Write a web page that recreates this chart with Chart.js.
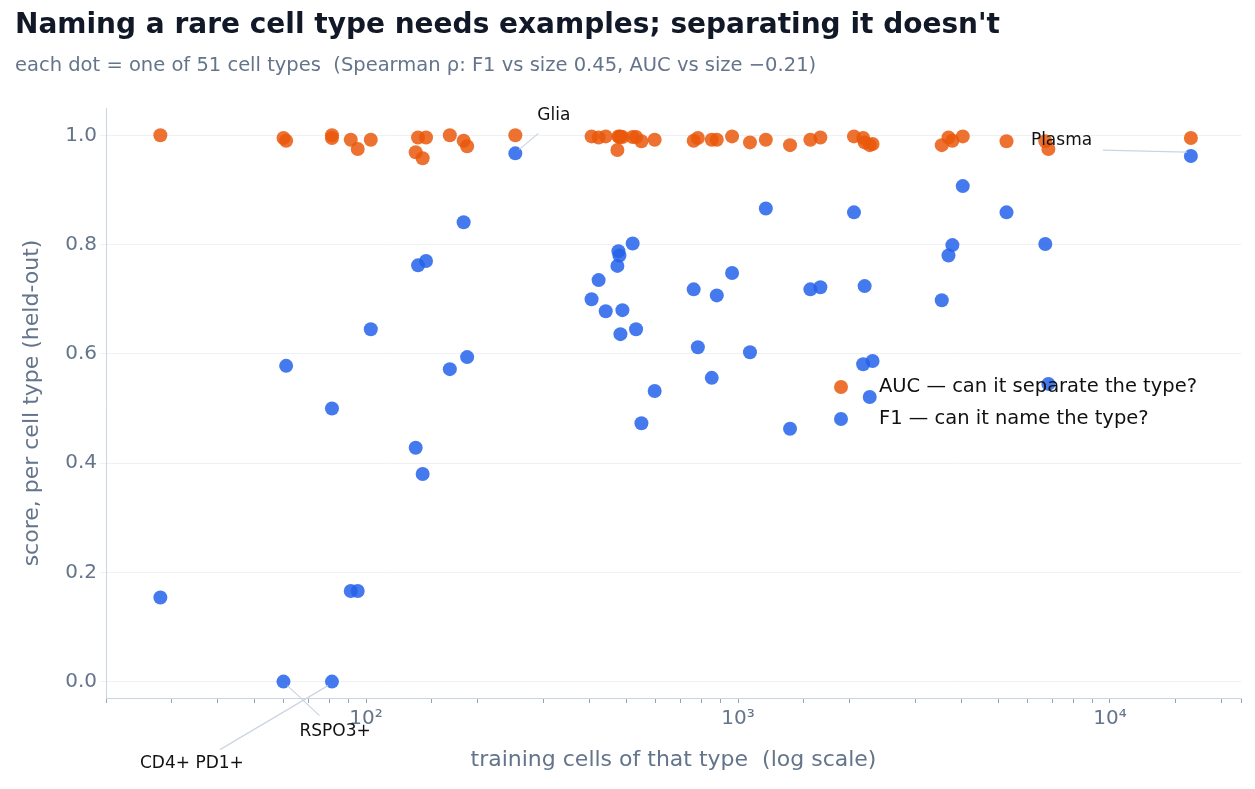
<!DOCTYPE html>
<html><head><meta charset="utf-8">
<script src="https://cdn.jsdelivr.net/npm/chart.js@4"></script>
<style>html,body{margin:0;background:#fff}#w{width:1255px;height:789px}</style>
</head><body><div id="w"><canvas id="c"></canvas></div>
<script>
const cellCounts=[28,60,61,81,81,91,95,103,136,138,142,145,168,183,187,252,404,422,441,474,477,480,483,489,521,532,550,597,760,780,850,877,964,1077,1188,1380,1565,1665,2050,2170,2190,2260,2300,3530,3680,3770,4020,5270,6700,6830,16500];
const f1=[0.154,0,0.578,0,0.50,0.166,0.166,0.645,0.428,0.762,0.38,0.77,0.572,0.841,0.594,0.967,0.70,0.735,0.678,0.761,0.788,0.78,0.636,0.68,0.802,0.645,0.473,0.532,0.718,0.612,0.556,0.707,0.748,0.603,0.866,0.463,0.718,0.722,0.859,0.581,0.724,0.521,0.587,0.698,0.78,0.799,0.907,0.859,0.801,0.545,0.962];
const auc=[1.0,0.995,0.99,1.0,0.995,0.992,0.975,0.992,0.969,0.996,0.958,0.996,1.0,0.99,0.98,1.0,0.998,0.996,0.998,0.973,0.998,0.997,0.998,0.997,0.997,0.997,0.989,0.992,0.99,0.995,0.992,0.992,0.998,0.987,0.992,0.982,0.992,0.996,0.998,0.995,0.987,0.982,0.984,0.982,0.996,0.99,0.998,0.989,0.989,0.975,0.995];
const seriesLabels=['AUC — can it separate the type?','F1 — can it name the type?'];
const annotations=[{i:15,text:'Glia',dx:22,dy:-38,lx:23,ly:-20},{i:50,text:'Plasma',dx:-160,dy:-15,lx:-88,ly:-6},{i:1,text:'RSPO3+',dx:16,dy:50,lx:36,ly:34},{i:3,text:'CD4+ PD1+',dx:-192,dy:82,lx:-112,ly:68}];
const toPts=v=>cellCounts.map((x,i)=>({x,y:v[i]}));
const sup={2:'10²',3:'10³',4:'10⁴'};
const F='DejaVu Sans';
const deco={id:'deco',afterDatasetsDraw(ch){
 const c=ch.ctx,xs=ch.scales.x,ys=ch.scales.y;
 c.save();c.font='19.5px "DejaVu Sans"';c.textBaseline='middle';
 const cols=['rgba(234,88,12,0.85)','rgba(37,99,235,0.85)'];
 seriesLabels.forEach((t,k)=>{const X=841,Y=387+k*32;c.fillStyle=cols[k];c.beginPath();c.arc(X,Y,7,0,7);c.fill();c.fillStyle='#111';c.fillText(t,879,Y);});
 c.font='17px "DejaVu Sans"';c.strokeStyle='#cbd5e1';c.lineWidth=1.2;
 annotations.forEach(a=>{const px=xs.getPixelForValue(cellCounts[a.i]),py=ys.getPixelForValue(f1[a.i]);
  c.beginPath();c.moveTo(px+Math.sign(a.lx)*4,py+Math.sign(a.ly)*4);c.lineTo(px+a.lx,py+a.ly);c.stroke();
  c.fillStyle='#111';c.fillText(a.text,px+a.dx,py+a.dy);});
 c.restore();}};
new Chart(document.getElementById('c'),{type:'scatter',
data:{datasets:[
 {label:seriesLabels[0],data:toPts(auc),backgroundColor:'rgba(234,88,12,0.85)',borderWidth:0,pointRadius:7},
 {label:seriesLabels[1],data:toPts(f1),backgroundColor:'rgba(37,99,235,0.85)',borderWidth:0,pointRadius:7}]},
options:{responsive:true,maintainAspectRatio:false,animation:false,
 layout:{padding:{left:15,right:14,top:6,bottom:12}},
 plugins:{legend:{display:false},tooltip:{enabled:false},
  title:{display:true,text:"Naming a rare cell type needs examples; separating it doesn't",align:'start',color:'#111827',font:{family:F,size:28,weight:'bold'},padding:{top:3,bottom:12}},
  subtitle:{display:true,text:'each dot = one of 51 cell types  (Spearman ρ: F1 vs size 0.45, AUC vs size −0.21)',align:'start',color:'#64748b',font:{family:F,size:19.5},padding:{bottom:30}}},
 scales:{
  x:{type:'logarithmic',min:20,max:22500,afterFit:a=>{a.height=79;},
   grid:{drawOnChartArea:false,color:'#94a3b8',tickLength:5},border:{color:'#cbd5e1'},
   ticks:{color:'#64748b',padding:4,font:{family:F,size:20},autoSkip:false,maxRotation:0,
    callback:(v)=>{const l=Math.log10(v);return Math.abs(l-Math.round(l))<1e-6&&sup[Math.round(l)]?sup[Math.round(l)]:'';}},
   title:{display:true,text:'training cells of that type  (log scale)',color:'#64748b',font:{family:F,size:22},padding:{top:4}}},
  y:{min:-0.03,max:1.05,afterFit:a=>{a.width=91;},grid:{color:'#eef0f3',tickLength:6},border:{color:'#cbd5e1'},
   ticks:{color:'#64748b',font:{family:F,size:20},callback:v=>v.toFixed(1)},
   afterBuildTicks:a=>{a.ticks=[0,0.2,0.4,0.6,0.8,1.0].map(v=>({value:v}));},
   title:{display:true,text:'score, per cell type (held-out)',color:'#64748b',font:{family:F,size:22}}}}},
plugins:[deco]});
</script></body></html>
